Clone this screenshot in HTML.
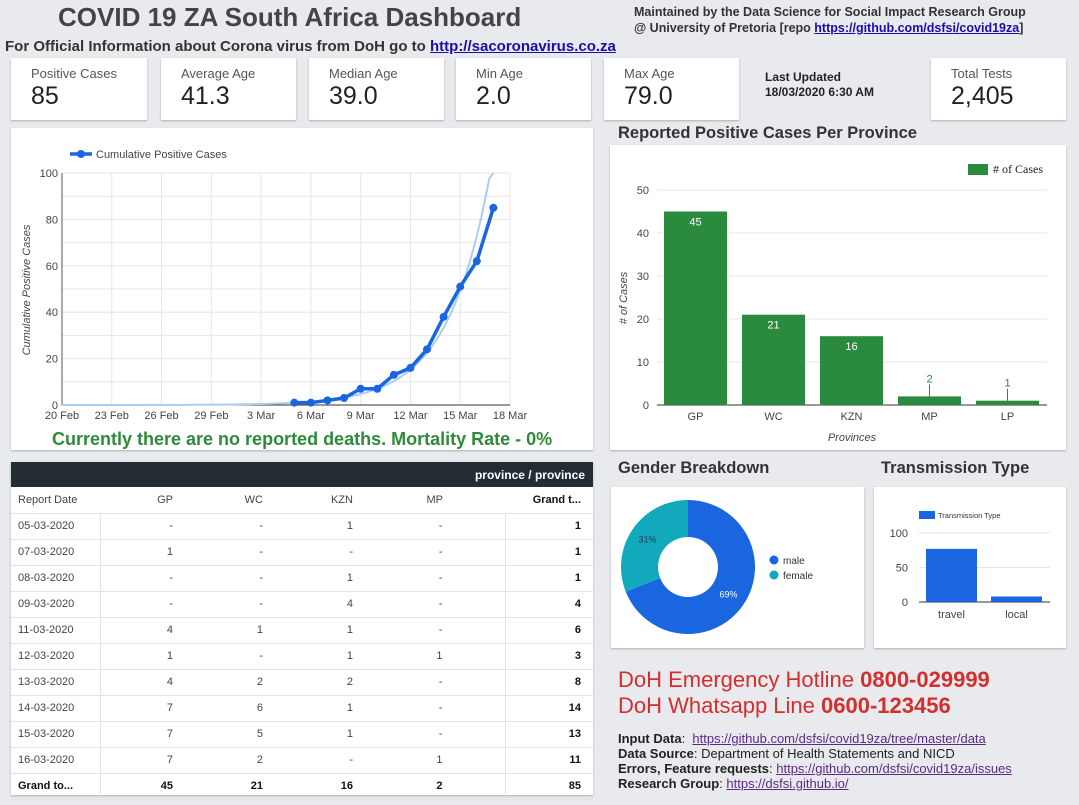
<!DOCTYPE html>
<html><head><meta charset="utf-8">
<style>
*{box-sizing:border-box;margin:0;padding:0}
body{width:1079px;height:805px;background:#e8eaed;font-family:"Liberation Sans",sans-serif;position:relative;overflow:hidden;color:#333}
.abs{position:absolute}
.card{position:absolute;background:#fff;box-shadow:0 1px 2px rgba(0,0,0,.25)}
.kpi .lbl{position:absolute;left:20px;top:8px;font-size:13px;color:#555}
.kpi .val{position:absolute;left:20px;top:24px;font-size:25px;color:#222}
table{border-collapse:collapse;width:100%;font-size:11px;table-layout:fixed}
td{height:26px;border-bottom:1px solid #e3e3e3;text-align:right;padding-right:2px;color:#444}
td:first-child{text-align:left;padding-left:7px;border-right:1px solid #e3e3e3}
td:nth-child(5){padding-right:62px}
td:last-child{font-weight:bold;color:#111;border-left:1px solid #e3e3e3;padding-right:12px}
.info{font-size:13px;color:#222;line-height:15px}
.info a{color:#5b2a86}
#svg{z-index:5;pointer-events:none}
</style></head><body>
<div class="abs" style="left:58px;top:2px;font-size:26px;font-weight:bold;color:#444">COVID 19 ZA South Africa Dashboard</div>
<div class="abs" style="left:634px;top:4px;font-size:12.5px;font-weight:bold;color:#333;line-height:16px">Maintained by the Data Science for Social Impact Research Group<br>@ University of Pretoria [repo <a href="#" style="color:#1a0dab">https://github.com/dsfsi/covid19za</a>]</div>
<div class="abs" style="left:5px;top:38px;font-size:15px;font-weight:bold;color:#333">For Official Information about Corona virus from DoH go to <a href="#" style="color:#1a0dab">http://sacoronavirus.co.za</a></div>

<div class="card kpi" style="left:11px;top:58px;width:136px;height:62px"><div class="lbl">Positive Cases</div><div class="val">85</div></div>
<div class="card kpi" style="left:161px;top:58px;width:135px;height:62px"><div class="lbl">Average Age</div><div class="val">41.3</div></div>
<div class="card kpi" style="left:309px;top:58px;width:135px;height:62px"><div class="lbl">Median Age</div><div class="val">39.0</div></div>
<div class="card kpi" style="left:456px;top:58px;width:135px;height:62px"><div class="lbl">Min Age</div><div class="val">2.0</div></div>
<div class="card kpi" style="left:604px;top:58px;width:135px;height:62px"><div class="lbl">Max Age</div><div class="val">79.0</div></div>
<div class="abs" style="left:765px;top:70px;font-size:12px;font-weight:bold;color:#222;line-height:15px">Last Updated<br>18/03/2020 6:30 AM</div>
<div class="card kpi" style="left:931px;top:58px;width:135px;height:62px"><div class="lbl">Total Tests</div><div class="val">2,405</div></div>

<div class="card" style="left:11px;top:128px;width:582px;height:322px"></div>
<div class="abs" style="left:52px;top:429px;font-size:18px;font-weight:bold;color:#2e8b3a">Currently there are no reported deaths. Mortality Rate - 0%</div>

<div class="card" style="left:11px;top:462px;width:582px;height:333px">
<div style="height:25px;background:#232d33;color:#fff;font-size:12px;font-weight:bold;text-align:right;padding:6px 8px">province / province</div>
<table>
<colgroup><col style="width:89px"><col style="width:75px"><col style="width:90px"><col style="width:90px"><col style="width:150px"><col></colgroup>
<tr style="font-size:11px"><td style="border-right:none">Report Date</td><td>GP</td><td>WC</td><td>KZN</td><td>MP</td><td style="border-left:none">Grand t...</td></tr>
<tr><td>05-03-2020</td><td>-</td><td>-</td><td>1</td><td>-</td><td>1</td></tr>
<tr><td>07-03-2020</td><td>1</td><td>-</td><td>-</td><td>-</td><td>1</td></tr>
<tr><td>08-03-2020</td><td>-</td><td>-</td><td>1</td><td>-</td><td>1</td></tr>
<tr><td>09-03-2020</td><td>-</td><td>-</td><td>4</td><td>-</td><td>4</td></tr>
<tr><td>11-03-2020</td><td>4</td><td>1</td><td>1</td><td>-</td><td>6</td></tr>
<tr><td>12-03-2020</td><td>1</td><td>-</td><td>1</td><td>1</td><td>3</td></tr>
<tr><td>13-03-2020</td><td>4</td><td>2</td><td>2</td><td>-</td><td>8</td></tr>
<tr><td>14-03-2020</td><td>7</td><td>6</td><td>1</td><td>-</td><td>14</td></tr>
<tr><td>15-03-2020</td><td>7</td><td>5</td><td>1</td><td>-</td><td>13</td></tr>
<tr><td>16-03-2020</td><td>7</td><td>2</td><td>-</td><td>1</td><td>11</td></tr>
<tr style="font-weight:bold"><td style="font-weight:bold;color:#111">Grand to...</td><td style="font-weight:bold;color:#111">45</td><td style="font-weight:bold;color:#111">21</td><td style="font-weight:bold;color:#111">16</td><td style="font-weight:bold;color:#111">2</td><td>85</td></tr>
</table></div>

<div class="abs" style="left:618px;top:124px;font-size:16.5px;font-weight:bold;color:#333">Reported Positive Cases Per Province</div>
<div class="card" style="left:610px;top:145px;width:456px;height:305px"></div>
<div class="abs" style="left:618px;top:459px;font-size:16.5px;font-weight:bold;color:#333">Gender Breakdown</div>
<div class="abs" style="left:881px;top:459px;font-size:16.5px;font-weight:bold;color:#333">Transmission Type</div>
<div class="card" style="left:611px;top:487px;width:253px;height:161px"></div>
<div class="card" style="left:874px;top:487px;width:192px;height:161px"></div>

<div class="abs" style="left:618px;top:667px;font-size:22px;color:#d32f2f;line-height:26px">DoH Emergency Hotline <b>0800-029999</b><br>DoH Whatsapp Line <b>0600-123456</b></div>
<div class="abs info" style="left:618px;top:731px">
<b>Input Data</b>:&nbsp; <a href="#">https://github.com/dsfsi/covid19za/tree/master/data</a><br>
<b>Data Source</b>: Department of Health Statements and NICD<br>
<b>Errors, Feature requests</b>: <a href="#">https://github.com/dsfsi/covid19za/issues</a><br>
<b>Research Group</b>: <a href="#">https://dsfsi.github.io/</a></div>

<svg class="abs" style="left:0;top:0" width="1079" height="805" id="svg"></svg>

<script>
// cumulative line chart data (day offset from 20 Feb)
const lineDays=[14,15,16,17,18,19,20,21,22,23,24,25,26];
const lineVals=[1,1,2,3,7,7,13,16,24,38,51,62,85];
const xTickLabels=["20 Feb","23 Feb","26 Feb","29 Feb","3 Mar","6 Mar","9 Mar","12 Mar","15 Mar","18 Mar"];
const yTicks=[0,20,40,60,80,100];
// province bar data
const provinces=["GP","WC","KZN","MP","LP"];
const provinceVals=[45,21,16,2,1];
const provTicks=[0,10,20,30,40,50];
// gender
const genderLabels=["male","female"];
const genderVals=[69,31];
// transmission
const transLabels=["travel","local"];
const transVals=[77,8];
const transTicks=[0,50,100];

const S=document.getElementById('svg');const NS='http://www.w3.org/2000/svg';
function mk(t,a,p){const e=document.createElementNS(NS,t);for(const k in a)e.setAttribute(k,a[k]);(p||S).appendChild(e);return e;}
function tx(x,y,s,a){const e=mk('text',Object.assign({x:x,y:y,'font-family':'Liberation Sans, sans-serif','font-size':11,fill:'#444'},a||{}));e.textContent=s;return e;}

// line chart
const lx=d=>62+d*(448/27), ly=v=>405-v*2.32;
for(let v=0;v<=100;v+=10){const g=mk('line',{x1:62,x2:510,y1:ly(v),y2:ly(v),stroke:'#e6e6e6'});}
xTickLabels.forEach((l,i)=>{mk('line',{x1:lx(i*3),x2:lx(i*3),y1:173,y2:405,stroke:'#e6e6e6'});const t=tx(lx(i*3),419,l,{'text-anchor':'middle'});});
yTicks.forEach(v=>{const t=tx(58,ly(v)+4,v,{'text-anchor':'end'});});
mk('line',{x1:62,x2:62,y1:173,y2:405,stroke:'#555'});mk('line',{x1:62,x2:510,y1:405,y2:405,stroke:'#333'});
const yt=tx(0,0,'Cumulative Positive Cases',{transform:'translate(30,290) rotate(-90)','text-anchor':'middle','font-style':'italic'});

// exponential trend from regression of data
(function(){let n=lineDays.length,sx=0,sy=0,sxx=0,sxy=0;lineDays.forEach((d,i)=>{const y=Math.log(lineVals[i]);sx+=d;sy+=y;sxx+=d*d;sxy+=d*y;});const b=(n*sxy-sx*sy)/(n*sxx-sx*sx),a=(sy-b*sx)/n;let pts=[];for(let d=0;d<=27;d+=0.25){const v=Math.exp(a+b*d);if(v>100){pts.push(lx(d)+','+ly(100));break;}pts.push(lx(d)+','+ly(v));}const p=mk('polyline',{points:pts.join(' '),fill:'none',stroke:'#a9cdf3','stroke-width':2});})();
const lp=mk('polyline',{points:lineDays.map((d,i)=>lx(d)+','+ly(lineVals[i])).join(' '),fill:'none',stroke:'#1a66e0','stroke-width':3.5});

lineDays.forEach((d,i)=>{const c=mk('circle',{cx:lx(d),cy:ly(lineVals[i]),r:4,fill:'#1a66e0'});});
mk('line',{x1:70,x2:92,y1:154,y2:154,stroke:'#1a66e0','stroke-width':3.5});mk('circle',{cx:81,cy:154,r:4,fill:'#1a66e0'});
const lg=tx(96,158,'Cumulative Positive Cases');

// province bar chart
const bx0=657,bw=78,by=v=>405-v*4.3;
provTicks.forEach(v=>{mk('line',{x1:bx0,x2:1047,y1:by(v),y2:by(v),stroke:v?'#e6e6e6':'#333'});const t=tx(649,by(v)+4,v,{'text-anchor':'end'});});
provinces.forEach((p,i)=>{const x=bx0+i*bw+7;const r=mk('rect',{x:x,y:by(provinceVals[i]),width:63,height:provinceVals[i]*4.3,fill:'#2a8a3e'});
 const big=provinceVals[i]>5;if(!big)mk('line',{x1:x+31.5,x2:x+31.5,y1:by(provinceVals[i])-12,y2:by(provinceVals[i]),stroke:'#2a8a3e'});
 tx(x+31.5,big?by(provinceVals[i])+14:by(provinceVals[i])-14,provinceVals[i],{'text-anchor':'middle',fill:big?'#fff':'#2a8a3e'});
 const t=tx(x+31.5,420,p,{'text-anchor':'middle'});});
tx(852,441,'Provinces',{'text-anchor':'middle','font-style':'italic'});
tx(0,0,'# of Cases',{transform:'translate(627,298) rotate(-90)','text-anchor':'middle','font-style':'italic'});
mk('rect',{x:968,y:164,width:20,height:11,fill:'#2a8a3e'});tx(993,173,'# of Cases',{'font-family':'Liberation Serif, serif','font-size':12,fill:'#222'});

// donut
const cx=688,cy=567,R=67,r0=30;let ang=-Math.PI/2;const tot=genderVals.reduce((a,b)=>a+b,0);const gc=['#1a66e0','#12a9bd'];
genderVals.forEach((v,i)=>{const a2=ang+v/tot*2*Math.PI,lg2=(a2-ang)>Math.PI?1:0;
 const d=`M${cx+R*Math.cos(ang)},${cy+R*Math.sin(ang)} A${R},${R} 0 ${lg2} 1 ${cx+R*Math.cos(a2)},${cy+R*Math.sin(a2)} L${cx+r0*Math.cos(a2)},${cy+r0*Math.sin(a2)} A${r0},${r0} 0 ${lg2} 0 ${cx+r0*Math.cos(ang)},${cy+r0*Math.sin(ang)}Z`;
 const p=mk('path',{d:d,fill:gc[i]});
 const m=(ang+a2)/2;tx(cx+49*Math.cos(m),cy+49*Math.sin(m)+3,v+'%',{'text-anchor':'middle','font-size':9,fill:i?'#335':'#fff'});ang=a2;
 mk('circle',{cx:774,cy:560+i*15,r:4.5,fill:gc[i]});const t=tx(783,564+i*15,genderLabels[i],{'font-size':10,fill:'#333'});});

// transmission bars
const ty=v=>602-v*0.69;
transTicks.forEach(v=>{mk('line',{x1:919,x2:1050,y1:ty(v),y2:ty(v),stroke:v?'#e6e6e6':'#333'});tx(908,ty(v)+4,v,{'text-anchor':'end','font-size':11});});
transLabels.forEach((l,i)=>{const x=926+i*65;const r=mk('rect',{x:x,y:ty(transVals[i]),width:51,height:transVals[i]*0.69,fill:'#1a66e0'});tx(x+25.5,618,l,{'text-anchor':'middle','font-size':11});});
mk('rect',{x:919,y:511,width:16,height:8,fill:'#1a66e0'});tx(938,518,'Transmission Type',{'font-size':7.5,fill:'#333'});
</script>
</body></html>
